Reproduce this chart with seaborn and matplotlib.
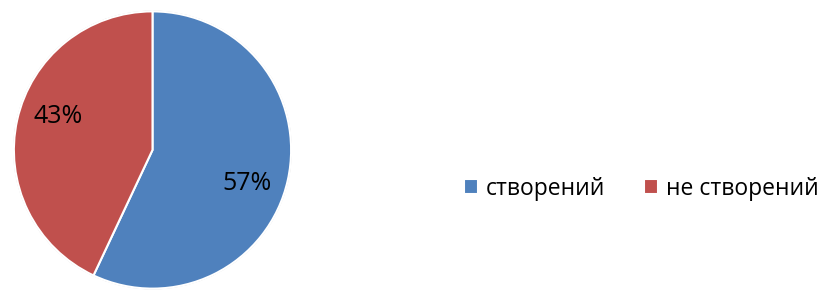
import numpy as np
import matplotlib
matplotlib.use('Agg')
import matplotlib.pyplot as plt
import seaborn as sns

# Дані діаграми
categories = ['створений', 'не створений']
shares = [57, 43]
colors = ['#4F81BD', '#C0504D']

sns.set_theme(style='white')
plt.rcParams['font.family'] = ['Open Sans', 'DejaVu Sans']

fig = plt.figure(figsize=(8.2, 2.92), dpi=100)
ax = fig.add_axes([12.5 / 820, 2 / 292, 280 / 820, 280 / 292])

wedges, texts, autotexts = ax.pie(
    shares, colors=colors, startangle=90, counterclock=False,
    autopct='%1.0f%%', pctdistance=0.72,
    wedgeprops=dict(edgecolor='white', linewidth=1.5),
    textprops=dict(fontsize=18, color='black'))

# легкий сірий обідок навколо круга
ax.add_patch(plt.Circle((0, 0), 1.0, fill=False, edgecolor='#d0d0d0', linewidth=1.2, zorder=0))

# підписи трохи зсунуті за годинниковою стрілкою, як у референсі
shift = np.deg2rad(-7)
for t in autotexts:
    x, y = t.get_position()
    t.set_position((x * np.cos(shift) - y * np.sin(shift),
                    x * np.sin(shift) + y * np.cos(shift)))

ax.set_xlim(-1.01, 1.01)
ax.set_ylim(-1.01, 1.01)
ax.set_aspect('equal')

fig.legend(wedges, categories, loc='center left', bbox_to_anchor=(464 / 820, 0.354),
           ncol=2, frameon=False, fontsize=16.5, handlelength=0.6, handleheight=0.6,
           handletextpad=0.35, columnspacing=1.7, borderpad=0, borderaxespad=0,
           labelcolor='black')

fig.savefig('out.png', dpi=100)
